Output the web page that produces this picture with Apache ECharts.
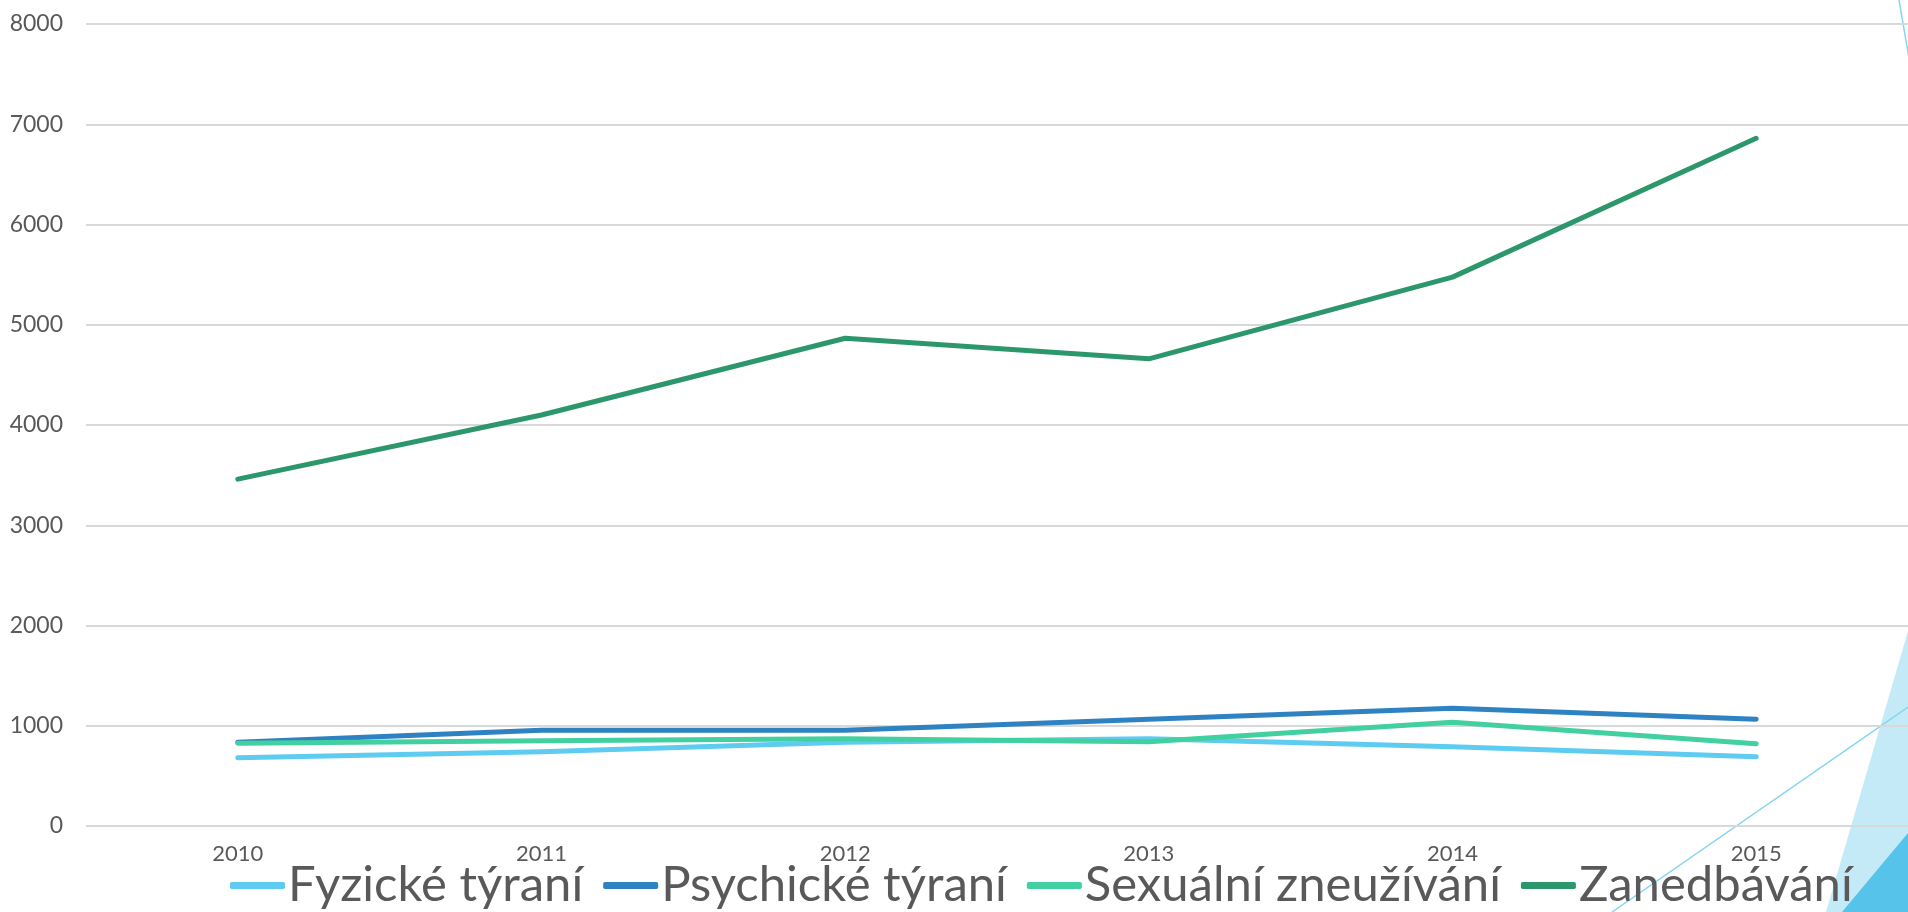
<!DOCTYPE html>
<html>
<head>
<meta charset="utf-8">
<script src="https://cdn.jsdelivr.net/npm/echarts@6/dist/echarts.min.js"></script>
<style>
  html, body { margin: 0; padding: 0; background: #fff; }
  #container { width: 1908px; height: 912px; }
</style>
</head>
<body>
<div id="container"></div>
<script>
var roky = ['2010', '2011', '2012', '2013', '2014', '2015'];
var fyzicke = [680, 740, 835, 870, 790, 690];
var psychicke = [835, 955, 955, 1065, 1175, 1065];
var sexualni = [825, 850, 870, 840, 1035, 820];
var zanedbavani = [3460, 4100, 4865, 4660, 5475, 6860];
var nazvy = ['Fyzické týraní', 'Psychické týraní', 'Sexuální zneužívání', 'Zanedbávání'];
var barvy = ['#5ECBF0', '#2E82C2', '#43D0A0', '#2D976C'];

var dom = document.getElementById("container");
var myChart = echarts.init(dom);
var option = null;

function serie(i, data) {
    return {
        name: nazvy[i],
        type: 'line',
        data: data,
        symbol: 'none',
        color: barvy[i],
        lineStyle: { width: 5, cap: 'round', join: 'round', color: barvy[i] }
    };
}

option = {
    animation: false,
    textStyle: { fontFamily: 'Lato' },
    grid: { left: 86, right: -7.5, top: 24, bottom: 86, containLabel: false },
    // dekorace v pravem dolnim rohu (motiv snimku)
    graphic: [
        { type: 'polygon', z: -1, shape: { points: [[1826, 912], [1908, 631], [1908, 912]] }, style: { fill: '#C5EAF7' } },
        { type: 'polygon', z: -1, shape: { points: [[1842, 912], [1908, 833], [1908, 912]] }, style: { fill: '#55C3EA' } },
        { type: 'line', z: -1, shape: { x1: 1612, y1: 912, x2: 1908, y2: 707 }, style: { stroke: '#86D5F1', lineWidth: 1.5 } },
        { type: 'line', z: -1, shape: { x1: 1899, y1: 0, x2: 1909, y2: 58 }, style: { stroke: '#86D5F1', lineWidth: 1.5 } }
    ],
    legend: {
        data: nazvy,
        left: 225,
        top: 856,
        icon: 'roundRect',
        itemWidth: 55,
        itemHeight: 7,
        itemGap: 20,
        textStyle: { fontSize: 49, color: '#595959', fontFamily: 'Lato', padding: [0, 0, 0, -2] }
    },
    xAxis: {
        type: 'category',
        data: roky,
        boundaryGap: true,
        axisLine: { show: false },
        axisTick: { show: false },
        axisLabel: { fontSize: 22, color: '#595959', margin: 17 }
    },
    yAxis: {
        type: 'value',
        min: 0,
        max: 8000,
        interval: 1000,
        axisLine: { show: false },
        axisTick: { show: false },
        axisLabel: {
            fontSize: 23,
            color: '#595959',
            margin: 23,
            formatter: function (v) { return String(v); }
        },
        splitLine: { lineStyle: { color: '#D9D9D9', width: 2 } }
    },
    series: [
        serie(0, fyzicke),
        serie(1, psychicke),
        serie(2, sexualni),
        serie(3, zanedbavani)
    ]
};

if (option && typeof option === "object") {
    myChart.setOption(option, true);
}
</script>
</body>
</html>
